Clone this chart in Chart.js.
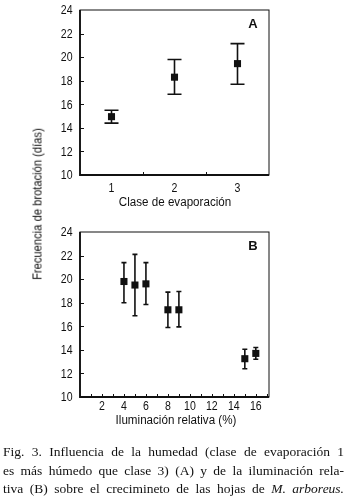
<!DOCTYPE html>
<html lang="es">
<head>
  <meta charset="UTF-8" />
  <title>Fig. 3</title>
  <script src="https://cdn.jsdelivr.net/npm/chart.js"></script>
  <style>
    body {
      margin: 0;
      width: 347px;
      height: 498px;
      background: #fff;
      position: relative;
      overflow: hidden;
      color: #111;
    }
    .panel {
      position: absolute;
      left: 0;
      width: 347px;
      height: 212px;
    }
    .axtitle {
      position: absolute;
      white-space: nowrap;
      font-family: 'Liberation Sans', Arial, sans-serif;
      font-size: 12.5px;
      line-height: 1;
      transform: translate(-50%, -50%) scaleX(0.93);
    }
    #ytitle {
      left: 37px;
      top: 204px;
      font-size: 13px;
      transform: translate(-50%, -50%) rotate(-90deg) scaleX(0.86);
    }
    .caption {
      position: absolute;
      left: 3px;
      top: 443px;
      width: 341px;
      font-family: 'Liberation Serif', 'Times New Roman', serif;
      font-size: 13.5px;
      line-height: 18.5px;
    }
    .caption div {
      text-align: justify;
      text-align-last: justify;
      white-space: nowrap;
    }
  </style>
</head>
<body>
  <div class="panel" style="top:0"><canvas id="chartA"></canvas></div>
  <div class="panel" style="top:222px"><canvas id="chartB"></canvas></div>
  <div class="axtitle" id="ytitle">Frecuencia de brotación (días)</div>
  <div class="axtitle" style="left:175px; top:202px">Clase de evaporación</div>
  <div class="axtitle" style="left:176px; top:420px">Iluminación relativa (%)</div>
  <div class="caption">
    <div>Fig. 3. Influencia de la humedad (clase de evaporación 1</div>
    <div>es más húmedo que clase 3) (A) y de la iluminación rela-</div>
    <div>tiva (B) sobre el crecimineto de las hojas de <i>M. arboreus.</i></div>
  </div>

  <script>
    // Panel A: clase de evaporación
    const claseEvap = [1, 2, 3];
    const mediaA = [14.95, 18.3, 19.45];
    const infA = [14.4, 16.85, 17.7];
    const supA = [15.5, 19.8, 21.15];

    // Panel B: iluminación relativa (%)
    const iluminacion = [4, 5, 6, 8, 9, 15, 16];
    const mediaB = [19.8, 19.5, 19.6, 17.4, 17.4, 13.25, 13.7];
    const infB = [18.0, 16.9, 17.85, 15.9, 15.95, 12.4, 13.2];
    const supB = [21.4, 22.1, 21.4, 18.9, 18.95, 14.05, 14.2];

    const yTicks = [10, 12, 14, 16, 18, 20, 22, 24];
    const xTicksA = [1, 2, 3];
    const xTicksB = [2, 4, 6, 8, 10, 12, 14, 16];

    const labelFont = "12px 'Liberation Sans', Arial, sans-serif";
    const squeeze = 0.88;

    // error bars, drawn with the chart's own scales
    const errorBars = {
      id: 'errorBars',
      beforeDatasetsDraw(chart, args, opts) {
        const { ctx, scales: { x, y } } = chart;
        ctx.save();
        ctx.strokeStyle = '#111';
        ctx.lineWidth = 1.6;
        opts.xs.forEach((xv, i) => {
          const px = x.getPixelForValue(xv);
          const lo = y.getPixelForValue(opts.lo[i]);
          const hi = y.getPixelForValue(opts.hi[i]);
          ctx.beginPath();
          ctx.moveTo(px, lo); ctx.lineTo(px, hi);
          ctx.moveTo(px - opts.cap, lo); ctx.lineTo(px + opts.cap, lo);
          ctx.moveTo(px - opts.cap, hi); ctx.lineTo(px + opts.cap, hi);
          ctx.stroke();
        });
        ctx.restore();
      }
    };

    // narrow text, like the condensed type of the original
    function narrowText(ctx, text, x, y, align) {
      ctx.save();
      ctx.translate(x, y);
      ctx.scale(squeeze, 1);
      ctx.textAlign = align;
      ctx.fillText(text, 0, 0);
      ctx.restore();
    }

    // frame box, inward ticks, tick labels and panel letter
    const frame = {
      id: 'frame',
      afterDraw(chart, args, opts) {
        const { ctx, chartArea: a, scales: { x, y } } = chart;
        ctx.save();
        ctx.strokeStyle = '#111';
        ctx.fillStyle = '#111';
        ctx.lineWidth = 1;
        ctx.strokeRect(a.left, a.top, a.right - a.left, a.bottom - a.top);
        ctx.lineWidth = 1.8;
        ctx.beginPath();
        ctx.moveTo(a.left, a.top); ctx.lineTo(a.left, a.bottom); ctx.lineTo(a.right, a.bottom);
        ctx.stroke();

        ctx.lineWidth = 1;
        ctx.beginPath();
        y.ticks.forEach(t => {
          if (t.value <= y.min || t.value >= y.max) return;
          const py = Math.round(y.getPixelForValue(t.value)) + 0.5;
          ctx.moveTo(a.left, py); ctx.lineTo(a.left + 4, py);
        });
        opts.xMarks.forEach(v => {
          const px = Math.round(x.getPixelForValue(v)) + 0.5;
          ctx.moveTo(px, a.bottom); ctx.lineTo(px, a.bottom - 3);
        });
        ctx.stroke();

        ctx.font = labelFont;
        ctx.textBaseline = 'middle';
        y.ticks.forEach(t => {
          narrowText(ctx, String(t.value), a.left - 7.5, y.getPixelForValue(t.value) + 1, 'right');
        });
        x.ticks.forEach(t => {
          narrowText(ctx, String(t.value), x.getPixelForValue(t.value), a.bottom + opts.labelGap, 'center');
        });

        ctx.font = "bold 13px 'Liberation Sans', Arial, sans-serif";
        ctx.textAlign = 'center';
        ctx.fillText(opts.letter, a.right - 16, a.top + 14);
        ctx.restore();
      }
    };

    function makeChart(id, xs, means, lo, hi, cfg) {
      return new Chart(document.getElementById(id), {
        type: 'scatter',
        data: {
          datasets: [{
            data: xs.map((v, i) => ({ x: v, y: means[i] })),
            pointStyle: 'rect',
            pointRadius: 5,
            pointHoverRadius: 5,
            backgroundColor: '#111',
            borderColor: '#111',
            borderWidth: 0
          }]
        },
        options: {
          responsive: true,
          maintainAspectRatio: false,
          animation: false,
          layout: { padding: { left: 80, right: 78, top: 10, bottom: 37 } },
          plugins: {
            legend: { display: false },
            tooltip: { enabled: false },
            errorBars: { xs: xs, lo: lo, hi: hi, cap: cfg.cap },
            frame: { letter: cfg.letter, xMarks: cfg.xMarks, labelGap: cfg.labelGap }
          },
          scales: {
            x: {
              type: 'linear',
              display: false,
              min: cfg.xMin,
              max: cfg.xMax,
              afterBuildTicks: s => { s.ticks = cfg.xTicks.map(v => ({ value: v })); }
            },
            y: {
              display: false,
              min: 10,
              max: 24,
              afterBuildTicks: s => { s.ticks = yTicks.map(v => ({ value: v })); }
            }
          }
        },
        plugins: [errorBars, frame]
      });
    }

    makeChart('chartA', claseEvap, mediaA, infA, supA, {
      letter: 'A',
      cap: 7,
      xMin: 0.5,
      xMax: 3.5,
      xTicks: xTicksA,
      xMarks: [1.5, 2.5],
      labelGap: 14
    });

    makeChart('chartB', iluminacion, mediaB, infB, supB, {
      letter: 'B',
      cap: 2.5,
      xMin: 0,
      xMax: 17.2,
      xTicks: xTicksB,
      xMarks: [1, 2, 3, 4, 5, 6, 7, 8, 9, 10, 11, 12, 13, 14, 15, 16, 17],
      labelGap: 10
    });
  </script>
</body>
</html>
